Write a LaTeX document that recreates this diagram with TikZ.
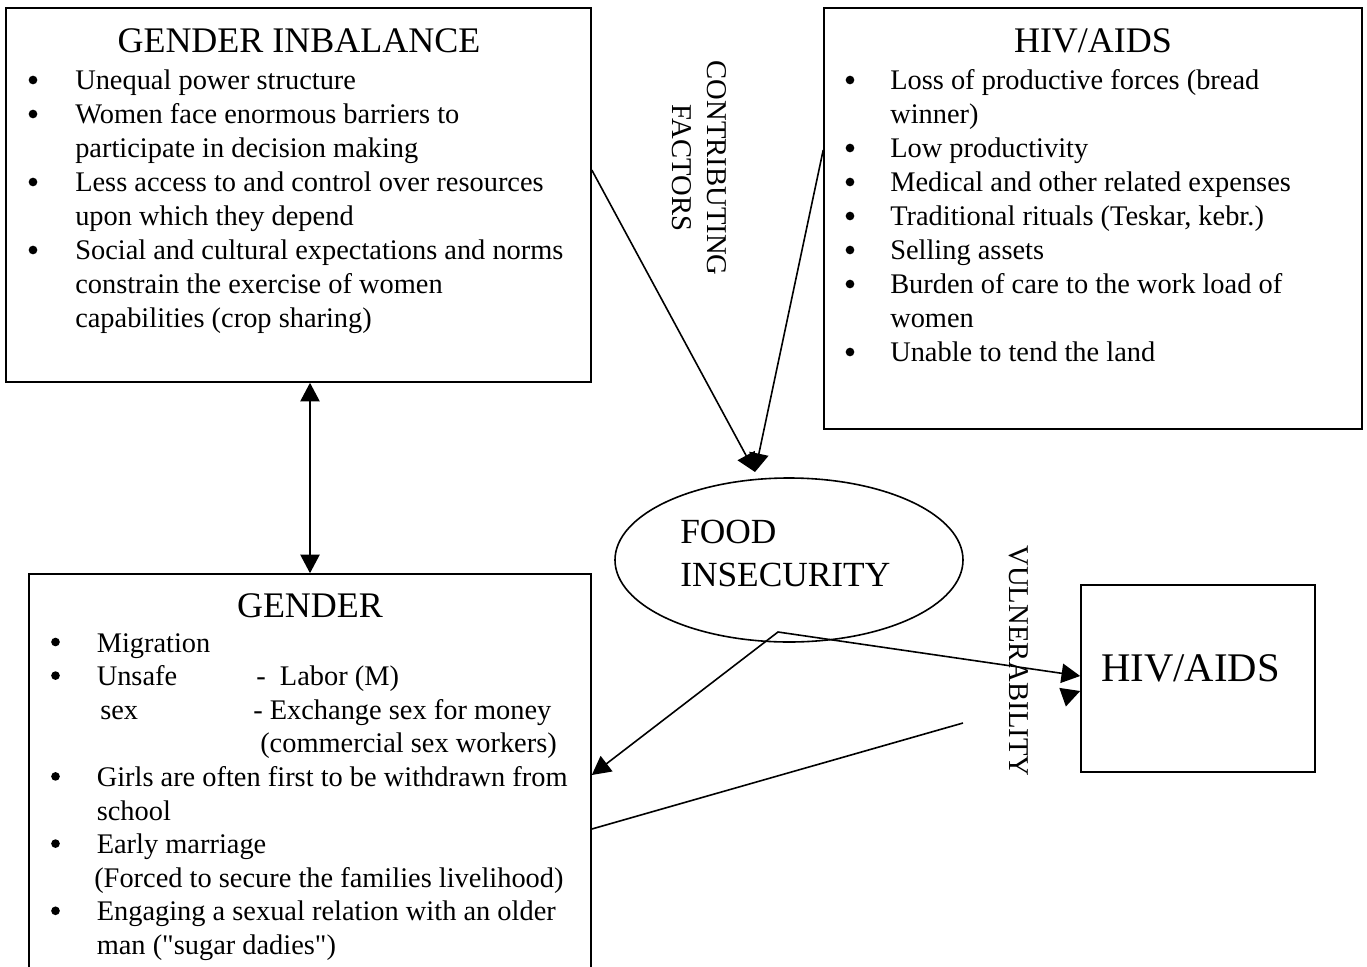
\documentclass[tikz,border=0pt]{standalone}
\usepackage{fontspec}
\setmainfont{Liberation Serif}
\usetikzlibrary{arrows.meta,fit,shapes.geometric}

\tikzset{
  box/.style={draw, line width=1.2pt, inner sep=0pt},
  txt/.style={anchor=base west, inner sep=0pt, font=\fontsize{21.3}{25.5}\selectfont},
  bul/.style={circle, fill, inner sep=0pt, minimum size=6.5pt},
  ttl/.style={anchor=base, inner sep=0pt, font=\fontsize{27}{32}\selectfont},
  big/.style={anchor=base west, inner sep=0pt, font=\fontsize{26.5}{32}\selectfont},
  vtxt/.style={rotate=-90, align=center, inner sep=0pt, font=\fontsize{21.5}{26}\selectfont},
  con/.style={line width=1.2pt, -{Triangle[length=14pt,width=14.5pt]}},
  dcon/.style={line width=1.2pt, {Triangle[length=14pt,width=14.5pt]}-{Triangle[length=14pt,width=14.5pt]}},
}

\begin{document}
\begin{tikzpicture}[x=0.75pt,y=0.75pt,yscale=-1,xscale=1]
        \useasboundingbox (0,0) rectangle (1367,967);

        \node[box, fit={(6,8) (591,382)}] (gib) {};
        \node[box, fit={(824,8) (1362,429)}] (hiv) {};
        \node[box, fit={(29,574) (591,1000)}] (gen) {};
        \node[box, fit={(1081,585) (1315,772)}] (hiv2) {};
        \node[draw, line width=1.2pt, ellipse, inner sep=0pt, minimum width=261pt, minimum height=123pt] (fi) at (789,560) {};

        % gender inbalance
        \node[ttl] (gib-t) at (299,52) {GENDER INBALANCE};
        \foreach \t [count=\i] in {{Unequal power structure}, {Women face enormous barriers to}, {participate in decision making}, {Less access to and control over resources}, {upon which they depend}, {Social and cultural expectations and norms}, {constrain the exercise of women}, {capabilities (crop sharing)}}
            \node[txt] (gib-\i) at (75,{89+34*(\i-1)}) {\t};
        \foreach \i in {1,2,4,6}
            \node[bul] (gib-b\i) at (33,{80+34*(\i-1)}) {};

        % hiv/aids
        \node[ttl] (hiv-t) at (1093,52) {HIV/AIDS};
        \foreach \t [count=\i] in {{Loss of productive forces (bread}, {winner)}, {Low productivity}, {Medical and other related expenses}, {Traditional rituals (Teskar, kebr.)}, {Selling assets}, {Burden of care to the work load of}, {women}, {Unable to tend the land}}
            \node[txt] (hiv-\i) at (890,{89+34*(\i-1)}) {\t};
        \foreach \i in {1,3,4,5,6,7,9}
            \node[bul] (hiv-b\i) at (850,{80+34*(\i-1)}) {};

        % gender
        \node[ttl] (gen-t) at (310,617) {GENDER};
        \foreach \x/\t [count=\i] in {96.5/{Migration}, 96.5/{Unsafe}, 100/{sex}, 260/{(commercial sex workers)}, 96.5/{Girls are often first to be withdrawn from}, 96.5/{school}, 96.5/{Early marriage}, 94/{(Forced to secure the families livelihood)}, 96.5/{Engaging a sexual relation with an older}, 96.5/{man (\textquotedbl sugar dadies\textquotedbl)}}
            \node[txt] (gen-\i) at (\x,{652+33.6*(\i-1)}) {\t};
        \node[txt] (gen-2b) at (256,{652+33.6}) {-~~Labor (M)};
        \node[txt] (gen-3b) at (253,{652+33.6*2}) {- Exchange sex for money};
        \foreach \i in {1,2,5,7,9}
            \node[bul] (gen-b\i) at (55.5,{642+33.6*(\i-1)}) {};

        \node[big] (fi-1) at (680,543) {FOOD};
        \node[big] (fi-2) at (680,586) {INSECURITY};
        \node[anchor=base west, inner sep=0pt, font=\fontsize{30.5}{36}\selectfont] (hiv2-t) at (1101,681) {HIV/AIDS};

        \node[vtxt] (cf) at (699.5,168) {CONTRIBUTING\\FACTORS};
        \node[vtxt] (vul) at (1019,661) {VULNERABILITY};

        \coordinate (fi-in) at (755,472);
        \coordinate (fi-v) at (778,632);
        \coordinate (vl-end) at (963,723);
        \coordinate (stub) at (1066,696);

        \draw[con] (gib.east |- 0,170) -- (fi-in);
        \draw[con] (hiv.west |- 0,150) -- (fi-in);
        \draw[dcon] (gen.north |- gib.south) -- (gen.north);
        \draw[dcon] (gen.east |- 0,775) -- (fi-v) -- (hiv2.west |- 0,676);
        \draw[line width=1.2pt] (gen.east |- 0,829) -- (vl-end);
        \draw[con] (stub) -- (hiv2.west |- 0,691);

\end{tikzpicture}
\end{document}
